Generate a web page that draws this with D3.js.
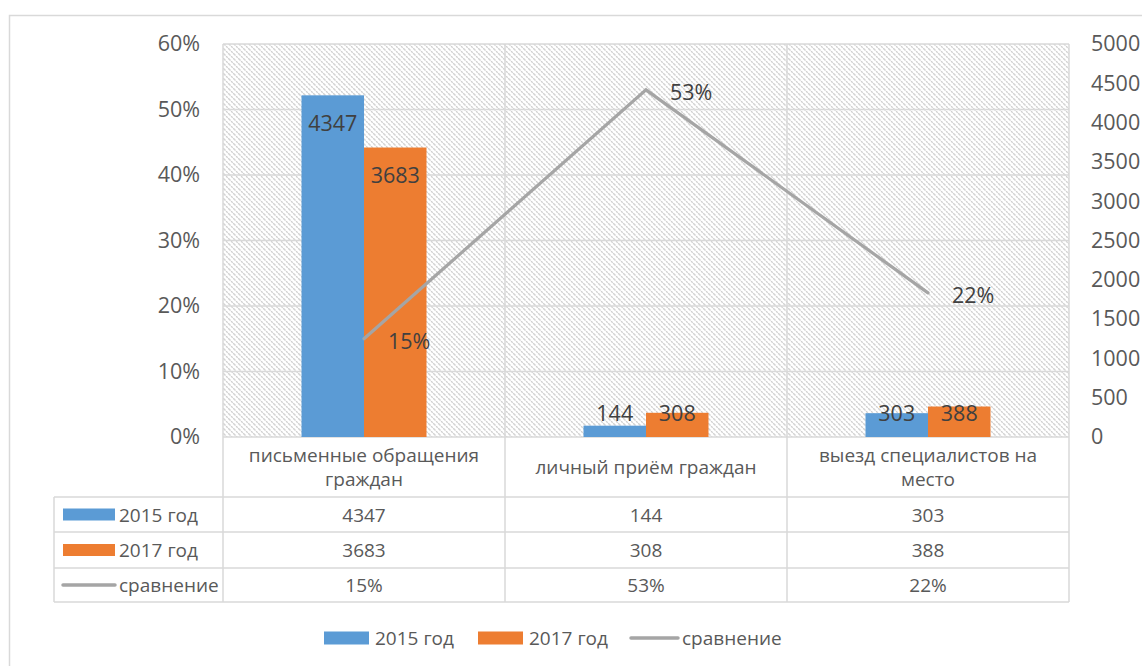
<!DOCTYPE html>
<html><head><meta charset="utf-8">
<script src="https://cdn.jsdelivr.net/npm/d3@7/dist/d3.min.js"></script>
<style>
body{margin:0;background:#fff;}
text{font-family:"Open Sans","Noto Sans",sans-serif;}
</style></head>
<body><svg id="c" width="1142" height="666"></svg>
<script>
const categories = [["письменные обращения","граждан"],["личный приём граждан"],["выезд специалистов на","место"]];
const seriesNames = ["2015 год","2017 год"];
const values2015 = [4347,144,303];
const values2017 = [3683,308,388];
const lineName = "сравнение";
const lineValues = [0.15,0.53,0.22];
const leftTicks = [0,0.1,0.2,0.3,0.4,0.5,0.6];
const rightTicks = [0,500,1000,1500,2000,2500,3000,3500,4000,4500,5000];

const colors = ["#5B9BD5","#ED7D31"];
const lineColor = "#A5A5A5";
const gridColor = "#D9D9D9";
const textColor = "#595959";
const labelColor = "#404040";
const fs = 19;
const fsBig = 21.5;

const svg = d3.select("#c");
const L = 223, R = 1069, T = 44, B = 437;
const tableLeft = 54, rowLines = [497,532,568,602];

// outer border
svg.append("rect").attr("x",9.5).attr("y",15.5).attr("width",1142).attr("height",700)
  .attr("fill","none").attr("stroke",gridColor).attr("stroke-width",1.5);

// hatch pattern
const defs = svg.append("defs");
const pat = defs.append("pattern").attr("id","hatch").attr("patternUnits","userSpaceOnUse")
  .attr("width",5).attr("height",5);
pat.append("path").attr("d","M-1,-1 L6,6 M-1,4 L1,6 M4,-1 L6,1")
  .attr("stroke","#CFCFCF").attr("stroke-width",1.4).attr("stroke-dasharray","2.2,0.8");

const idx = categories.map((d,i)=>i);
const x = d3.scaleBand().domain(idx).range([L,R]).padding(0);
const xs = d3.scaleBand().domain([0,1]).range([0,x.bandwidth()]).paddingInner(0).paddingOuter(1.256);
const yL = d3.scaleLinear().domain([0,0.6]).range([B,T]);
const yR = d3.scaleLinear().domain([0,5000]).range([B,T]);

// plot background
svg.append("rect").attr("x",L).attr("y",T).attr("width",R-L).attr("height",B-T).attr("fill","url(#hatch)");

// gridlines
svg.append("g").selectAll("line").data(leftTicks).join("line")
  .attr("x1",L).attr("x2",R).attr("y1",d=>yL(d)).attr("y2",d=>yL(d))
  .attr("stroke",gridColor).attr("stroke-width",1.5);
// vertical lines (plot + table)
svg.append("g").selectAll("line").data(d3.range(categories.length+1)).join("line")
  .attr("x1",d=>L+d*x.step()).attr("x2",d=>L+d*x.step())
  .attr("y1",T).attr("y2",rowLines[3])
  .attr("stroke",gridColor).attr("stroke-width",1.5);
// table horizontals
svg.append("g").selectAll("line").data(rowLines).join("line")
  .attr("x1",tableLeft).attr("x2",R).attr("y1",d=>d).attr("y2",d=>d)
  .attr("stroke",gridColor).attr("stroke-width",1.5);
svg.append("line").attr("x1",tableLeft).attr("x2",tableLeft).attr("y1",rowLines[0]).attr("y2",rowLines[3])
  .attr("stroke",gridColor).attr("stroke-width",1.5);

// axes
const ax1 = svg.append("g").attr("transform",`translate(${L},0)`)
  .call(d3.axisLeft(yL).tickValues(leftTicks).tickSize(0).tickPadding(23).tickFormat(d3.format(".0%")));
const ax2 = svg.append("g").attr("transform",`translate(${R},0)`)
  .call(d3.axisRight(yR).tickValues(rightTicks).tickSize(0).tickPadding(22).tickFormat(d3.format("d")));
[ax1,ax2].forEach(a=>{a.select(".domain").remove();
  a.selectAll("text").attr("font-size",fsBig).attr("fill",textColor).attr("font-family","'Open Sans',sans-serif");});

// bars
const series = [values2015, values2017];
series.forEach((vals,s)=>{
  const g = svg.append("g");
  g.selectAll("rect").data(vals).join("rect")
    .attr("x",(d,i)=>x(i)+xs(s)).attr("width",xs.bandwidth())
    .attr("y",d=>yR(d)).attr("height",d=>B-yR(d)).attr("fill",colors[s]);
  g.selectAll("text").data(vals).join("text")
    .attr("x",(d,i)=>x(i)+xs(s)+xs.bandwidth()/2)
    .attr("y",d=>Math.min(yR(d)+27,B-25))
    .attr("text-anchor","middle").attr("dominant-baseline","central")
    .attr("font-size",fsBig).attr("fill",labelColor).text(d=>d);
});

// line
const cx = i=>x(i)+x.bandwidth()/2;
svg.append("path").datum(lineValues)
  .attr("d",d3.line().x((d,i)=>cx(i)).y(d=>yL(d)))
  .attr("fill","none").attr("stroke",lineColor).attr("stroke-width",3.2).attr("stroke-linecap","round");
svg.append("g").selectAll("text").data(lineValues).join("text")
  .attr("x",(d,i)=>cx(i)+24).attr("y",d=>yL(d)+2)
  .attr("dominant-baseline","central").attr("font-size",fsBig).attr("fill",labelColor)
  .text(d=>d3.format(".0%")(d));

// category labels
categories.forEach((lines,i)=>{
  const cy = (B+rowLines[0])/2;
  const lh = 24;
  lines.forEach((t,j)=>{
    svg.append("text").attr("x",cx(i)).attr("y",cy+(j-(lines.length-1)/2)*lh)
      .attr("text-anchor","middle").attr("dominant-baseline","central")
      .attr("font-size",fs).attr("fill",textColor).text(t);
  });
});

// table rows
const rows = [
  {name:seriesNames[0], type:"bar", color:colors[0], vals:values2015.map(String)},
  {name:seriesNames[1], type:"bar", color:colors[1], vals:values2017.map(String)},
  {name:lineName, type:"line", color:lineColor, vals:lineValues.map(d3.format(".0%"))}
];
rows.forEach((r,k)=>{
  const cy = (rowLines[k]+rowLines[k+1])/2;
  if(r.type==="bar") svg.append("rect").attr("x",63).attr("y",cy-6).attr("width",52).attr("height",12).attr("fill",r.color);
  else svg.append("line").attr("x1",63).attr("x2",115).attr("y1",cy).attr("y2",cy)
    .attr("stroke",r.color).attr("stroke-width",3.5).attr("stroke-linecap","round");
  svg.append("text").attr("x",119).attr("y",cy).attr("dominant-baseline","central")
    .attr("font-size",fs).attr("fill",textColor).text(r.name);
  r.vals.forEach((v,i)=>{
    svg.append("text").attr("x",cx(i)).attr("y",cy).attr("text-anchor","middle").attr("dominant-baseline","central")
      .attr("font-size",fs).attr("fill",textColor).text(v);
  });
});

// bottom legend
const legY = 638;
const leg = [
  {name:seriesNames[0], type:"bar", color:colors[0], x:324},
  {name:seriesNames[1], type:"bar", color:colors[1], x:478},
  {name:lineName, type:"line", color:lineColor, x:631}
];
leg.forEach(l=>{
  if(l.type==="bar") svg.append("rect").attr("x",l.x).attr("y",legY-6.5).attr("width",45).attr("height",13).attr("fill",l.color);
  else svg.append("line").attr("x1",l.x).attr("x2",l.x+47).attr("y1",legY).attr("y2",legY)
    .attr("stroke",l.color).attr("stroke-width",3.5).attr("stroke-linecap","round");
  svg.append("text").attr("x",l.x+51).attr("y",legY).attr("dominant-baseline","central")
    .attr("font-size",19).attr("fill",textColor).text(l.name);
});
</script></body></html>
